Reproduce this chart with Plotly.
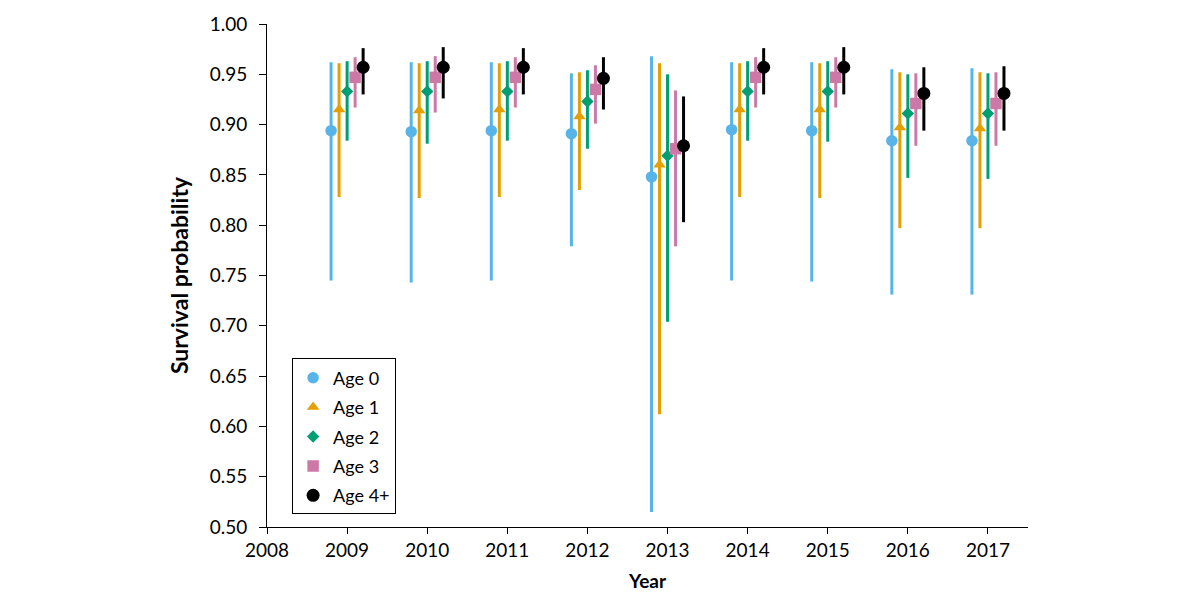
import plotly.graph_objects as go

years = [2009, 2010, 2011, 2012, 2013, 2014, 2015, 2016, 2017]
series_names = ["Age 0", "Age 1", "Age 2", "Age 3", "Age 4+"]

age0_est = [0.894, 0.893, 0.894, 0.891, 0.848, 0.895, 0.894, 0.884, 0.884]
age0_lo = [0.745, 0.743, 0.745, 0.779, 0.515, 0.745, 0.744, 0.731, 0.731]
age0_hi = [0.962, 0.962, 0.962, 0.951, 0.968, 0.962, 0.962, 0.955, 0.956]

age1_est = [0.915, 0.914, 0.915, 0.908, 0.860, 0.915, 0.915, 0.897, 0.896]
age1_lo = [0.828, 0.827, 0.828, 0.835, 0.612, 0.828, 0.827, 0.797, 0.797]
age1_hi = [0.961, 0.961, 0.961, 0.952, 0.961, 0.961, 0.961, 0.952, 0.952]

age2_est = [0.933, 0.933, 0.933, 0.923, 0.869, 0.933, 0.933, 0.911, 0.911]
age2_lo = [0.884, 0.881, 0.884, 0.876, 0.704, 0.884, 0.883, 0.847, 0.846]
age2_hi = [0.963, 0.963, 0.963, 0.954, 0.950, 0.963, 0.963, 0.950, 0.951]

age3_est = [0.947, 0.947, 0.947, 0.935, 0.876, 0.947, 0.947, 0.921, 0.921]
age3_lo = [0.917, 0.912, 0.917, 0.901, 0.779, 0.917, 0.917, 0.879, 0.879]
age3_hi = [0.967, 0.968, 0.967, 0.959, 0.934, 0.967, 0.967, 0.951, 0.952]

age4_est = [0.957, 0.957, 0.957, 0.946, 0.879, 0.957, 0.957, 0.931, 0.931]
age4_lo = [0.930, 0.926, 0.930, 0.915, 0.803, 0.930, 0.930, 0.894, 0.894]
age4_hi = [0.976, 0.977, 0.976, 0.967, 0.928, 0.976, 0.977, 0.957, 0.958]

ests = [age0_est, age1_est, age2_est, age3_est, age4_est]
los = [age0_lo, age1_lo, age2_lo, age3_lo, age4_lo]
his = [age0_hi, age1_hi, age2_hi, age3_hi, age4_hi]

colors = ["#56B4E9", "#E69F00", "#009E73", "#CC79A7", "#000000"]
symbols = ["circle", "triangle-up", "diamond", "square", "circle"]
sizes = [11.5, 11, 9.5, 11.5, 13]
offsets = [-0.2, -0.1, 0.0, 0.1, 0.2]

fig = go.Figure()
for i, (name, est, lo, hi, c, s, sz, off) in enumerate(zip(series_names, ests, los, his, colors, symbols, sizes, offsets)):
    fig.add_trace(go.Scatter(
        x=[y + off for y in years],
        y=est,
        mode="markers",
        name=name,
        legendgroup=f"g{i}",
        marker=dict(color=c, symbol=s, size=sz, line=dict(width=0)),
        error_y=dict(
            type="data", symmetric=False,
            array=[h - e for h, e in zip(hi, est)],
            arrayminus=[e - l for e, l in zip(est, lo)],
            color=c, thickness=3, width=0,
        ),
    ))

font_family = "Lato, 'Open Sans', sans-serif"
fig.update_layout(
    width=1200, height=600,
    margin=dict(l=267, r=172, t=16, b=70),
    paper_bgcolor="white", plot_bgcolor="white",
    font=dict(family=font_family, size=18, color="black"),
    showlegend=True,
    legend=dict(
        x=0.033, y=0.335, xanchor="left", yanchor="top",
        bordercolor="black", borderwidth=1, bgcolor="white",
        font=dict(size=18, family=font_family), tracegroupgap=3,
        itemwidth=30,
    ),
    xaxis=dict(
        range=[2008, 2017.5], tickmode="array", tickvals=list(range(2008, 2018)),
        ticks="outside", ticklen=6, tickcolor="black", showline=True, linecolor="black",
        linewidth=1, showgrid=False, zeroline=False,
        title=dict(text="<b>Year</b>", font=dict(size=19), standoff=14),
        tickfont=dict(size=19),
    ),
    yaxis=dict(
        range=[0.5, 1.0], dtick=0.05, tick0=0.5, tickformat=".2f",
        ticks="outside", ticklen=7, tickcolor="black", showline=True, linecolor="black",
        linewidth=1, showgrid=False, zeroline=False, ticklabelstandoff=8,
        title=dict(text="<b>Survival probability</b>", font=dict(size=23), standoff=14),
        tickfont=dict(size=19),
    ),
)

fig.write_html("out.html")
